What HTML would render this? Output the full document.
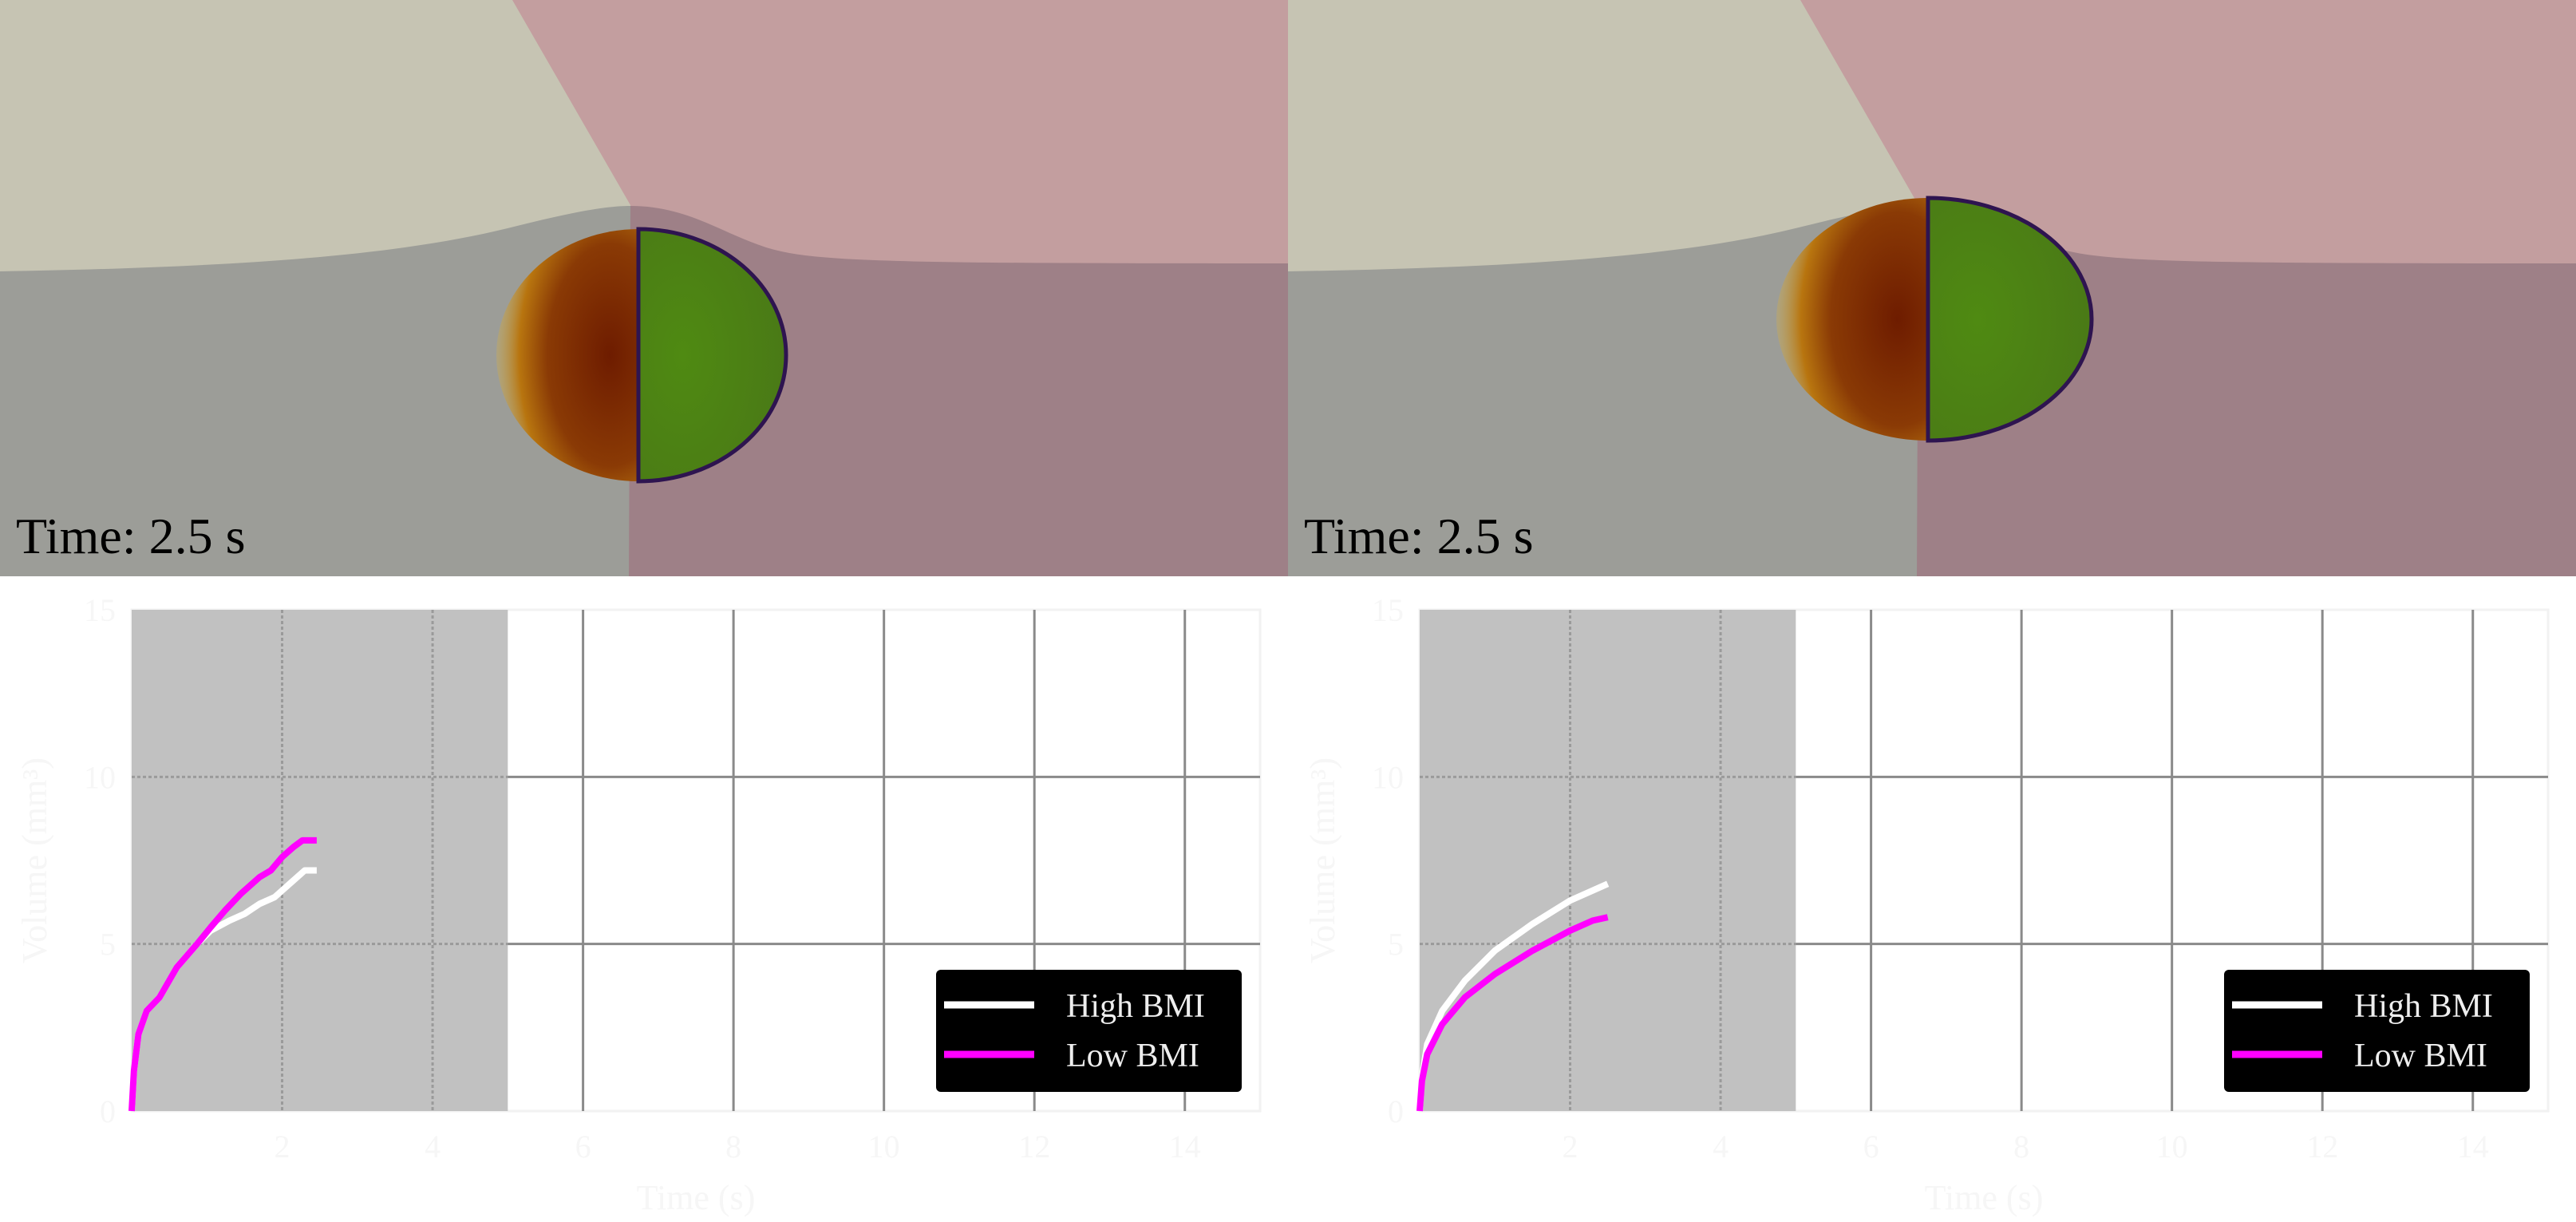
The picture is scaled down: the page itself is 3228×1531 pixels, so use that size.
<!DOCTYPE html>
<html><head><meta charset="utf-8"><style>
html,body{margin:0;padding:0;background:#fff;}
svg{display:block;}
</style></head><body>
<svg id="root" width="3228" height="1531" viewBox="0 0 3228 1531" xmlns="http://www.w3.org/2000/svg">
<defs>
<radialGradient id="orng" cx="0.8" cy="0.5" r="0.8">
<stop offset="0" stop-color="#6e1c00"/><stop offset="0.55" stop-color="#8a3a05"/><stop offset="0.8" stop-color="#b8750f"/><stop offset="1" stop-color="#c9ad5a" stop-opacity="0.4"/></radialGradient>
<radialGradient id="grn" cx="0.3" cy="0.5" r="0.8">
<stop offset="0" stop-color="#4f8a12"/><stop offset="0.85" stop-color="#4a7a16"/><stop offset="1" stop-color="#3a4a30"/></radialGradient>
<clipPath id="cl0"><rect x="0" y="0" width="1614" height="722"/></clipPath>
</defs>
<g id="panels"></g>
<g id="charts"></g>
</svg>
<script>
// ---- chart data ----
const xTicks = [0,2,4,6,8,10,12,14];
const yTicks = [0,5,10,15];
const shadeEnd = 5;
const leftLowT  = [0,0.03,0.09,0.2,0.37,0.6,0.87,1.05,1.24,1.45,1.7,1.85,2.0,2.15,2.27,2.35,2.46];
const leftLowV  = [0,1.2,2.3,3.0,3.4,4.3,5.0,5.5,6.0,6.5,7.0,7.2,7.6,7.9,8.1,8.1,8.1];
const leftHighT = [0,0.03,0.09,0.2,0.37,0.6,0.87,1.05,1.3,1.5,1.7,1.9,2.0,2.15,2.3,2.46];
const leftHighV = [0,1.2,2.3,3.0,3.4,4.3,5.0,5.4,5.7,5.9,6.2,6.4,6.6,6.9,7.2,7.2];
const rightHighT = [0,0.03,0.1,0.3,0.6,1.0,1.5,2.0,2.3,2.5];
const rightHighV = [0,1.0,2.0,3.0,3.9,4.8,5.6,6.3,6.6,6.8];
const rightLowT  = [0,0.03,0.1,0.3,0.6,1.0,1.5,2.0,2.3,2.5];
const rightLowV  = [0,0.9,1.7,2.6,3.4,4.1,4.8,5.4,5.7,5.8];
const legendLabels = ["High BMI","Low BMI"];
const seriesColors = ["#ffffff","#ff00ff"];

const NS="http://www.w3.org/2000/svg";
function mk(tag,attrs,parent){const e=document.createElementNS(NS,tag);for(const k in attrs)e.setAttribute(k,attrs[k]);parent.appendChild(e);return e;}

// ---- top panels ----
const panels=document.getElementById('panels');
function panel(ox, ell){
  const g=mk('g',{transform:`translate(${ox},0)`,'clip-path':'url(#cl0)'},panels);
  
  
  mk('rect',{x:0,y:0,width:1614,height:722,fill:'#c6c4b3'},g);
  mk('path',{d:'M642,0 L1614,0 L1614,722 L788,722 L790,257 Z',fill:'#c39e9f'},g);
  mk('path',{d:'M0,340 C300,335 500,320 640,285 C720,265 760,258 790,258 L790,722 L0,722 Z',fill:'#9c9d98'},g);
  mk('path',{d:'M790,258 C860,258 900,290 960,310 C1020,328 1100,330 1614,330 L1614,722 L788,722 Z',fill:'#9e8087'},g);
  const [cx,cy,rxl,rxr,ry]=ell;
  mk('path',{d:`M${cx},${cy-ry} A${rxl},${ry} 0 0 0 ${cx},${cy+ry} Z`,fill:'url(#orng)'},g);
  mk('path',{d:`M${cx},${cy-ry} A${rxr},${ry} 0 0 1 ${cx},${cy+ry} Z`,fill:'url(#grn)',stroke:'#2e1450','stroke-width':5},g);
  const t=mk('text',{x:20,y:693,'font-family':'Liberation Serif, serif','font-size':64,fill:'#000'},g);
  t.textContent='Time: 2.5 s';
  
  
}
panel(0,[800,445,178,185,158]);
panel(1614,[802,400,190,205,152]);

// ---- charts ----
const charts=document.getElementById('charts');
function chart(ox, s1T,s1V,s2T,s2V){
  const L=165+ox, R=1579+ox, T=764, B=1392;
  const xMax=15, yMax=15;
  const X=v=>L+(R-L)*v/xMax, Y=v=>B-(B-T)*v/yMax;
  const g=mk('g',{},charts);
  
  
  mk('rect',{x:L,y:T,width:R-L,height:B-T,fill:'#fff',stroke:'#f2f2f2','stroke-width':3},g);
  const sh=mk('rect',{x:L,y:T,width:X(shadeEnd)-L,height:B-T,fill:'#c1c1c1'},g);
  
  
  xTicks.forEach(v=>{ if(v===0) return;
    const inShade=v<shadeEnd;
    const ln=mk('line',{x1:X(v),x2:X(v),y1:T,y2:B,stroke:inShade?'#9a9a9a':'#8a8a8a','stroke-width':3,'stroke-dasharray':inShade?'4 3':'none'},g);
    
    
    const tl=mk('text',{x:X(v),y:B+58,'text-anchor':'middle','font-family':'Liberation Serif, serif','font-size':40,fill:'#f6f6f6'},g);
    tl.textContent=v;
    
    
  });
  yTicks.forEach(v=>{
    if(v>0 && v<yMax){
      mk('line',{x1:L,x2:X(shadeEnd),y1:Y(v),y2:Y(v),stroke:'#9a9a9a','stroke-width':3,'stroke-dasharray':'4 3'},g);
      const ln=mk('line',{x1:X(shadeEnd),x2:R,y1:Y(v),y2:Y(v),stroke:'#8a8a8a','stroke-width':3},g);
      
      
    }
    const tl=mk('text',{x:L-20,y:Y(v)+14,'text-anchor':'end','font-family':'Liberation Serif, serif','font-size':40,fill:'#f6f6f6'},g);
    tl.textContent=v;
    
    
  });
  const xl=mk('text',{x:(L+R)/2,y:1515,'text-anchor':'middle','font-family':'Liberation Serif, serif','font-size':44,fill:'#f6f6f6'},g);
  xl.textContent='Time (s)';
  
  
  const yl=mk('text',{x:0,y:0,transform:`translate(${ox+58},${(T+B)/2}) rotate(-90)`,'text-anchor':'middle','font-family':'Liberation Serif, serif','font-size':44,fill:'#f6f6f6'},g);
  yl.textContent='Volume (mm³)';
  
  
  [[s1T,s1V,seriesColors[0],'series-high-bmi'],[s2T,s2V,seriesColors[1],'series-low-bmi']].forEach(([ts,vs,c,n])=>{
    const p=mk('polyline',{points:ts.map((t,i)=>X(t)+','+Y(vs[i])).join(' '),fill:'none',stroke:c,'stroke-width':8,'stroke-linejoin':'round'},g);
    
    
  });
  const lx=1173+ox, ly=1215;
  const lg=mk('g',{},g);
  
  
  mk('rect',{x:lx,y:ly,width:383,height:153,rx:6,fill:'#000'},lg);
  legendLabels.forEach((lab,i)=>{
    const yy=ly+44+i*62;
    mk('line',{x1:lx+10,x2:lx+123,y1:yy,y2:yy,stroke:seriesColors[i],'stroke-width':9},lg);
    const tx=mk('text',{x:lx+163,y:yy+15,'font-family':'Liberation Serif, serif','font-size':42,fill:'#eee'},lg);
    tx.textContent=lab;
    
    
  });
}
chart(0, leftHighT,leftHighV, leftLowT,leftLowV);
chart(1614, rightHighT,rightHighV, rightLowT,rightLowV);
</script>
</body></html>
